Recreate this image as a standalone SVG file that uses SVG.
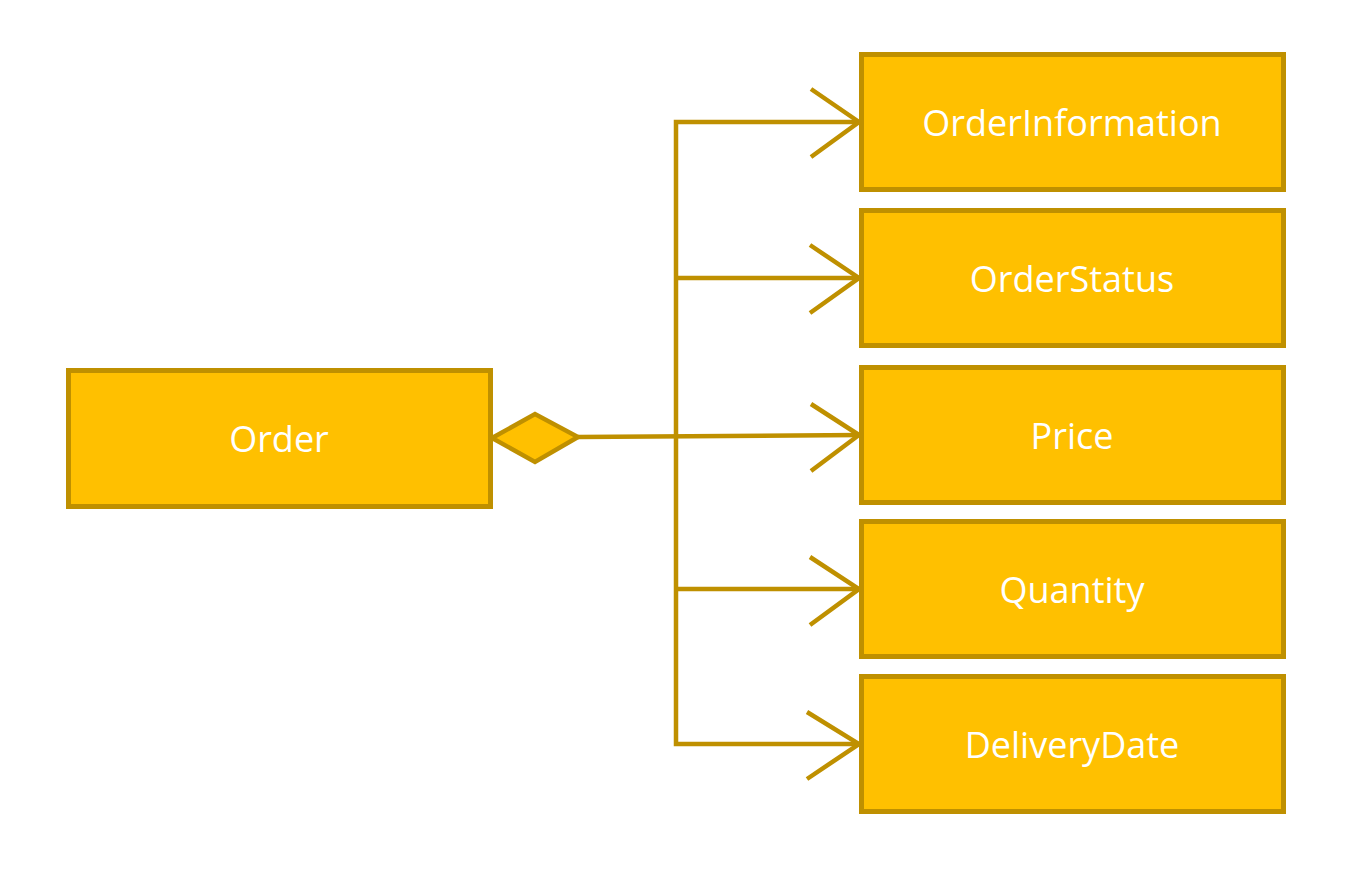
<svg xmlns="http://www.w3.org/2000/svg" width="1352" height="872" viewBox="0 0 1352 872">
<style>
.box{fill:#FFC000;stroke:#BF9000;stroke-width:5}
.lbl{fill:#FFFFFF;font-family:"Open Sans","Noto Sans",sans-serif;font-size:36px;text-anchor:middle;dominant-baseline:central}
.ln{fill:none;stroke:#BF9000;stroke-width:4.5}
</style>
<rect width="1352" height="872" fill="#FFFFFF"/>
<g id="connectors">
<polyline class="ln" points="578,437 861,435"/>
<polyline class="ln" points="859,122 676,122 676,744 859,744"/>
<polyline class="ln" points="676,278 859,278"/>
<polyline class="ln" points="676,589 859,589"/>
<polyline class="ln" points="811,89 859,122 811,157"/>
<polyline class="ln" points="810,245 859,278 810,313"/>
<polyline class="ln" points="811,404 859,435 811,471"/>
<polyline class="ln" points="810,557 859,589 810,625"/>
<polyline class="ln" points="807,712 859,744 807,779"/>
<polygon points="492,438 535,414 578,437 535,462" fill="#FFC000" stroke="#BF9000" stroke-width="4.5"/>
</g>
<g id="order"><rect class="box" x="68.5" y="370.5" width="422" height="136"/><text class="lbl" x="279" y="438">Order</text></g>
<g id="orderinformation"><rect class="box" x="861.5" y="54.5" width="422" height="135"/><text class="lbl" x="1072" y="122">OrderInformation</text></g>
<g id="orderstatus"><rect class="box" x="861.5" y="210.5" width="422" height="135"/><text class="lbl" x="1072" y="278">OrderStatus</text></g>
<g id="price"><rect class="box" x="861.5" y="367.5" width="422" height="135"/><text class="lbl" x="1072" y="435">Price</text></g>
<g id="quantity"><rect class="box" x="861.5" y="521.5" width="422" height="135"/><text class="lbl" x="1072" y="589">Quantity</text></g>
<g id="deliverydate"><rect class="box" x="861.5" y="676.5" width="422" height="135"/><text class="lbl" x="1072" y="744">DeliveryDate</text></g>
</svg>
